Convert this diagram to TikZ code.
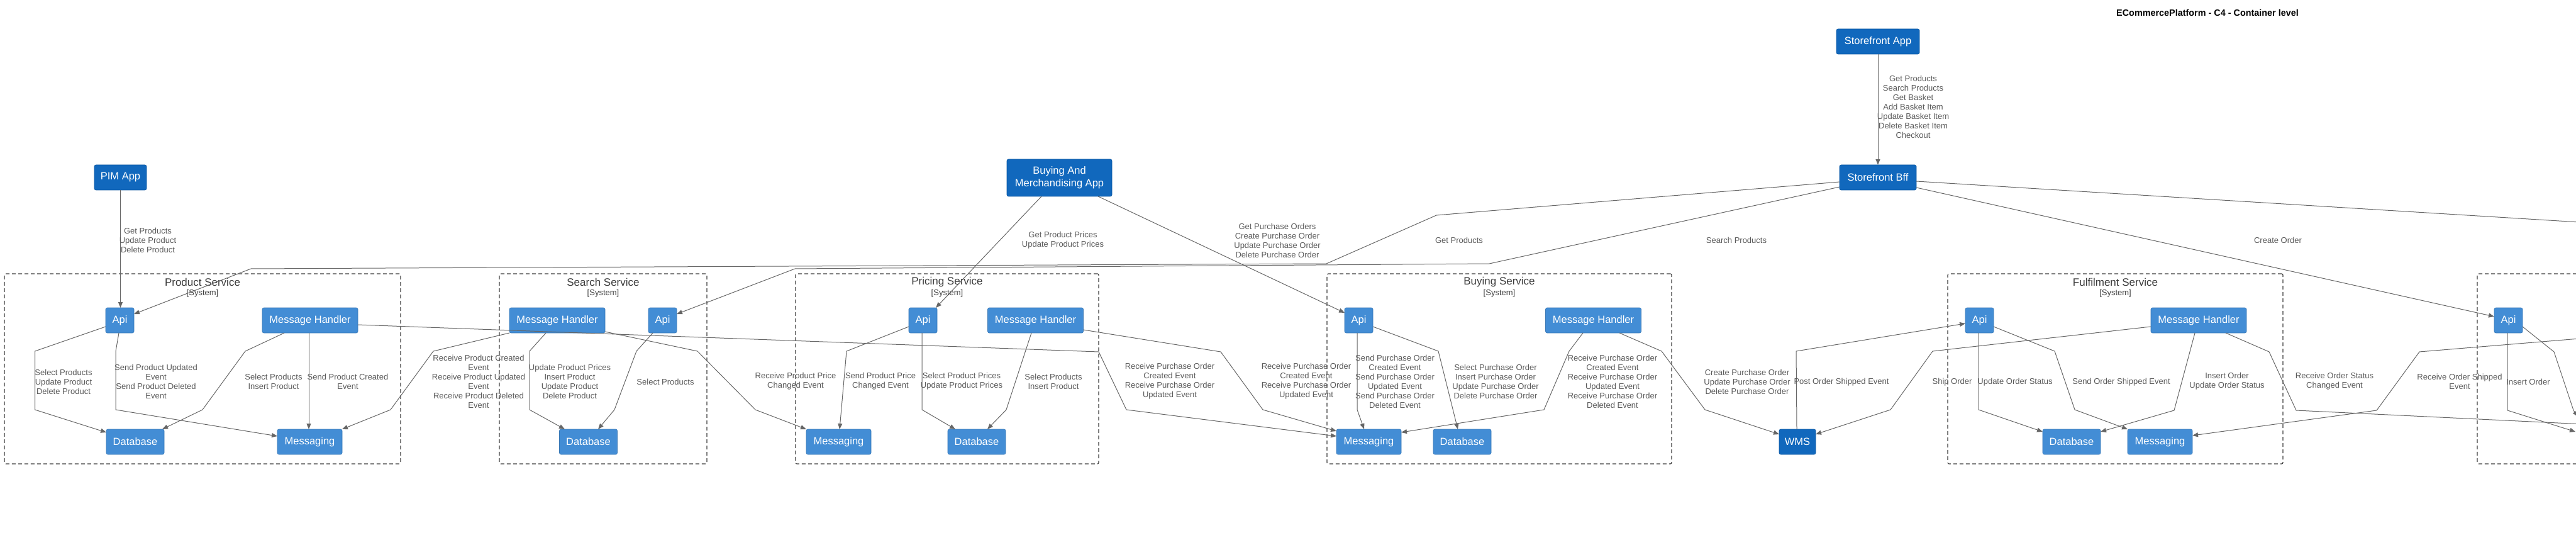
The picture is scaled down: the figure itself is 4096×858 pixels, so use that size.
\documentclass[tikz,border=0pt]{standalone}
\usepackage{fontspec}
\setmainfont{Liberation Sans}
\usetikzlibrary{arrows.meta}
\definecolor{cont}{HTML}{438DD5}
\definecolor{ext}{HTML}{1168BD}
\definecolor{relc}{HTML}{666666}
\definecolor{lblc}{HTML}{5A5A5A}
\definecolor{bndc}{HTML}{3C3C3C}
\begin{document}
\begin{tikzpicture}[x=1pt,y=-1pt,
  box/.style={fill=cont, draw=cont!85!black, line width=0.6pt, rounded corners=2.5pt, text=white,
    font=\fontsize{16.5}{20}\selectfont, inner sep=0pt, outer sep=0pt, minimum height=40pt, align=center},
  extbox/.style={box, fill=ext, draw=ext!85!black},
  rel/.style={draw=relc, line width=1pt, -{Triangle[length=9pt,width=7pt]}},
  lbl/.style={text=lblc, font=\fontsize{13}{15}\selectfont, align=center, inner sep=0pt},
  bnd/.style={draw=bndc, line width=1.1pt, dash pattern=on 6pt off 4pt, rounded corners=2pt, inner sep=0pt, outer sep=0pt},
  bndtitle/.style={text=bndc, font=\fontsize{17}{20}\selectfont, inner sep=0pt},
  bndsub/.style={text=bndc, font=\fontsize{13}{15}\selectfont, inner sep=0pt}
]
\useasboundingbox (0,0) rectangle (4096,858);
\clip (0,0) rectangle (4096,858);

% title
\node[font=\bfseries\fontsize{14.4}{16}\selectfont, inner sep=0pt] (title) at (3510,20) {ECommercePlatform - C4 - Container level};

% boundaries
\node[bnd, minimum width=630pt, minimum height=302pt] (bndProd) at (322,586) {};
\node[bndtitle] (tProd) at (322,448) {Product Service};
\node[bndsub] (sProd) at (322,466) {[System]};
\node[bnd, minimum width=330pt, minimum height=302pt] (bndSearch) at (959,586) {};
\node[bndtitle] (tSearch) at (959,448) {Search Service};
\node[bndsub] (sSearch) at (959,466) {[System]};
\node[bnd, minimum width=482pt, minimum height=302pt] (bndPricing) at (1506,586) {};
\node[bndtitle] (tPricing) at (1506,448) {Pricing Service};
\node[bndsub] (sPricing) at (1506,466) {[System]};
\node[bnd, minimum width=548pt, minimum height=302pt] (bndBuying) at (2384,586) {};
\node[bndtitle] (tBuying) at (2384,448) {Buying Service};
\node[bndsub] (sBuying) at (2384,466) {[System]};
\node[bnd, minimum width=533pt, minimum height=302pt] (bndFul) at (3363.5,586) {};
\node[bndtitle] (tFul) at (3363.5,448) {Fulfilment Service};
\node[bndsub] (sFul) at (3363.5,466) {[System]};
\node[bnd, minimum width=400pt, minimum height=302pt] (bndRight) at (4139,586) {};

% external / apps
\node[extbox, minimum width=83pt] (pim) at (191.5,282) {PIM App};
\node[extbox, minimum width=167pt, minimum height=59pt] (bm) at (1684.5,282.5) {Buying And\\Merchandising App};
\node[extbox, minimum width=132pt] (app) at (2986,66) {Storefront App};
\node[extbox, minimum width=122pt] (bff) at (2986,282) {Storefront Bff};
\node[extbox, minimum width=58pt] (wms) at (2858,702) {WMS};

% product
\node[box, minimum width=45pt] (pA) at (190.5,509) {Api};
\node[box, minimum width=152pt] (pMH) at (493,509) {Message Handler};
\node[box, minimum width=92pt] (pDB) at (215,702) {Database};
\node[box, minimum width=103pt] (pMsg) at (492.5,702) {Messaging};
% search
\node[box, minimum width=152pt] (sMH) at (886,509) {Message Handler};
\node[box, minimum width=45pt] (sA) at (1053.5,509) {Api};
\node[box, minimum width=92pt] (sDB) at (935.5,702) {Database};
% pricing
\node[box, minimum width=45pt] (prA) at (1467.5,509) {Api};
\node[box, minimum width=152pt] (prMH) at (1646.5,509) {Message Handler};
\node[box, minimum width=103pt] (prMsg) at (1333.5,702) {Messaging};
\node[box, minimum width=92pt] (prDB) at (1553,702) {Database};
% buying
\node[box, minimum width=45pt] (bA) at (2160.5,509) {Api};
\node[box, minimum width=152pt] (bMH) at (2533.5,509) {Message Handler};
\node[box, minimum width=103pt] (bMsg) at (2176.5,702) {Messaging};
\node[box, minimum width=92pt] (bDB) at (2325,702) {Database};
% fulfilment
\node[box, minimum width=45pt] (fA) at (3147.5,509) {Api};
\node[box, minimum width=152pt] (fMH) at (3496,509) {Message Handler};
\node[box, minimum width=92pt] (fDB) at (3294,702) {Database};
\node[box, minimum width=103pt] (fMsg) at (3434.5,702) {Messaging};
% right (cut off)
\node[box, minimum width=45pt] (rA) at (3988.5,509) {Api};

\coordinate (offA) at (4150,356);
\coordinate (offB) at (4150,676);
\coordinate (offC) at (4150,534);
\coordinate (offD) at (4095,686);
\coordinate (offE) at (4099,662);

% top-level relations
\draw[rel] (app.south) -- (bff.north);
\node[lbl] (lApp) at (3042,170) {Get Products\\Search Products\\Get Basket\\Add Basket Item\\Update Basket Item\\Delete Basket Item\\Checkout};
\draw[rel] (pim.south) -- (pA.north -| pim.south);
\node[lbl] (lPim) at (235,382) {Get Products\\Update Product\\Delete Product};
\draw[rel] (bff.west |- 0,289) -- (2284,342) -- (2109,419) -- (399,427) -- (pA.east |- 0,499);
\node[lbl] (lGetP) at (2320,382) {Get Products};
\draw[rel] (bff.west |- 0,297) -- (2368,419) -- (1264,427) -- (sA.east |- 0,499);
\node[lbl] (lSearchP) at (2761,382) {Search Products};
\draw[rel] (bff.east |- 0,298) -- (rA.west |- 0,503);
\node[lbl] (lCreate) at (3622,382) {Create Order};
\draw[rel] (bff.east |- 0,288) -- (offA);
\draw[rel] (bm.south -| 1656,0) -- (prA.north -| 1488,0);
\node[lbl] (lBmP) at (1690,382) {Get Product Prices\\Update Product Prices};
\draw[rel] (bm.south -| 1746,0) -- (bA.west |- 0,497);
\node[lbl] (lBmB) at (2031,382) {Get Purchase Orders\\Create Purchase Order\\Update Purchase Order\\Delete Purchase Order};

% product service
\draw[rel] (pA.west |- 0,519) -- (55.5,558) -- (55.5,651) -- (pDB.west |- 0,687);
\node[lbl] (l9) at (101,607) {Select Products\\Update Product\\Delete Product};
\draw[rel] (pA.south -| 189,0) -- (184,558) -- (184,651) -- (pMsg.west |- 0,693);
\node[lbl] (l10) at (248,606) {Send Product Updated\\Event\\Send Product Deleted\\Event};
\draw[rel] (pMH.south -| 452,0) -- (390,558) -- (322,651) -- (pDB.north -| 258,0);
\node[lbl] (l11) at (435,606) {Select Products\\Insert Product};
\draw[rel] (pMH.south -| 491,0) -- (pMsg.north -| 491,0);
\node[lbl] (l12) at (553,606) {Send Product Created\\Event};
\draw[rel] (sMH.south west) -- (689,558) -- (621,651) -- (pMsg.north east);
\node[lbl] (l13) at (761,606) {Receive Product Created\\Event\\Receive Product Updated\\Event\\Receive Product Deleted\\Event};
\draw[rel] (pMH.east |- 0,516) -- (1747,559) -- (1791,651) -- (bMsg.west |- 0,693);
\node[lbl] (l14) at (1860,606) {Receive Purchase Order\\Created Event\\Receive Purchase Order\\Updated Event};

% search service
\draw[rel] (sMH.south -| 868,0) -- (842,558) -- (842,651) -- (sDB.north -| 898,0);
\node[lbl] (l15) at (906,606) {Update Product Prices\\Insert Product\\Update Product\\Delete Product};
\draw[rel] (sA.south -| 1038,0) -- (1012,558) -- (977,651) -- (sDB.north -| 951,0);
\node[lbl] (l16) at (1058,607) {Select Products};
\draw[rel] (sMH.east |- 0,527) -- (1109,558) -- (1201,651) -- (prMsg.north west);
\node[lbl] (l17) at (1265,606) {Receive Product Price\\Changed Event};

% pricing service
\draw[rel] (prA.west |- 0,519) -- (1346,558) -- (prMsg.north -| 1335,0);
\node[lbl] (l18) at (1400,606) {Send Product Price\\Changed Event};
\draw[rel] (prA.south -| 1466,0) -- (1466,651) -- (prDB.north -| 1519,0);
\node[lbl] (l19) at (1529,606) {Select Product Prices\\Update Product Prices};
\draw[rel] (prMH.south -| 1640,0) -- (1600,651) -- (prDB.north -| 1570,0);
\node[lbl] (l20) at (1675,606) {Select Products\\Insert Product};
\draw[rel] (prMH.east |- 0,524) -- (1941,559) -- (2008,651) -- (bMsg.west |- 0,685);
\node[lbl] (l21) at (2077,606) {Receive Purchase Order\\Created Event\\Receive Purchase Order\\Updated Event};

% buying service
\draw[rel] (bA.south -| 2158,0) -- (2158,651) -- (bMsg.north -| 2169,0);
\node[lbl] (l22) at (2218,606) {Send Purchase Order\\Created Event\\Send Purchase Order\\Updated Event\\Send Purchase Order\\Deleted Event};
\draw[rel] (bA.east |- 0,519) -- (2287,558) -- (bDB.north -| 2318,0);
\node[lbl] (l23) at (2378,606) {Select Purchase Order\\Insert Purchase Order\\Update Purchase Order\\Delete Purchase Order};
\draw[rel] (bMH.south -| 2517,0) -- (2495,558) -- (2455,651) -- (bMsg.east |- 0,687);
\node[lbl] (l24) at (2564,606) {Receive Purchase Order\\Created Event\\Receive Purchase Order\\Updated Event\\Receive Purchase Order\\Deleted Event};
\draw[rel] (bMH.south -| 2575,0) -- (2642,558) -- (2711,651) -- (wms.west |- 0,690);
\node[lbl] (l25) at (2778,607) {Create Purchase Order\\Update Purchase Order\\Delete Purchase Order};

% wms / fulfilment
\draw[rel] (wms.north -| 2857,0) -- (2856,558) -- (fA.west |- 0,514);
\node[lbl] (l26) at (2928,607) {Post Order Shipped Event};
\draw[rel] (fMH.west |- 0,519) -- (3073,558) -- (3006,651) -- (wms.east |- 0,690);
\node[lbl] (l27) at (3104,607) {Ship Order};
\draw[rel] (fA.south -| 3146,0) -- (3146,651) -- (fDB.west |- 0,686);
\node[lbl] (l28) at (3204,607) {Update Order Status};
\draw[rel] (fA.east |- 0,519) -- (3267,558) -- (3299,651) -- (fMsg.north west);
\node[lbl] (l29) at (3373,607) {Send Order Shipped Event};
\draw[rel] (fMH.south -| 3490,0) -- (3457,652) -- (fDB.east |- 0,686);
\node[lbl] (l30) at (3541,606) {Insert Order\\Update Order Status};
\draw[rel] (fMH.south -| 3539,0) -- (3608,559) -- (3651,652) -- (offB);
\node[lbl] (l31) at (3712,606) {Receive Order Status\\Changed Event};
\draw[rel] (offC) -- (3847,559) -- (3779,652) -- (fMsg.east |- 0,692);
\node[lbl] (l32) at (3911,606) {Receive Order Shipped\\Event};

% right service (cut off)
\draw[rel] (rA.south -| 3987,0) -- (3987,652) -- (offD);
\node[lbl] (l33) at (4020,607) {Insert Order};
\draw[rel] (rA.east |- 0,519) -- (4061,559) -- (4092,652) -- (offE);
\end{tikzpicture}
\end{document}
